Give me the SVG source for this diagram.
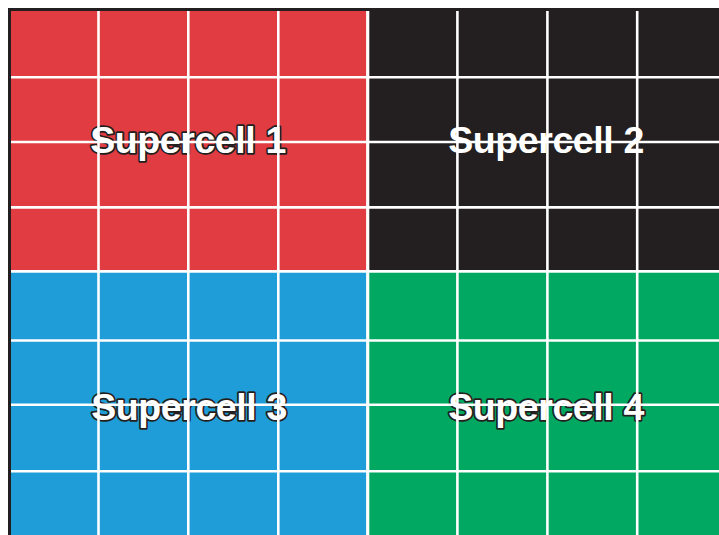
<svg xmlns="http://www.w3.org/2000/svg" width="719" height="535" viewBox="0 0 719 535">
<style>
.lbl{font-family:"Liberation Sans",Arial,sans-serif;font-weight:bold;font-size:37.5px;fill:#fff;stroke:#231f20;stroke-width:3.5;stroke-linejoin:round;paint-order:stroke;text-anchor:middle;letter-spacing:-0.4px}
.g{stroke:#fff;stroke-width:2.6;fill:none}
</style>
<rect width="719" height="535" fill="#fff"/>
<rect x="8" y="8" width="711" height="527" fill="#231f20"/>
<g id="supercell1">
<rect x="11" y="11" width="357" height="260" fill="#e03c41"/>
<text class="lbl" x="188" y="153">Supercell 1</text>
</g>
<g id="supercell2">
<rect x="368" y="11" width="351" height="260" fill="#231f20"/>
<text class="lbl" x="546" y="153">Supercell 2</text>
</g>
<g id="supercell3">
<rect x="11" y="271" width="357" height="264" fill="#1f9dd9"/>
<text class="lbl" x="189" y="420">Supercell 3</text>
</g>
<g id="supercell4">
<rect x="368" y="271" width="351" height="264" fill="#00a862"/>
<text class="lbl" x="546" y="420">Supercell 4</text>
</g>
<g id="gridlines" class="g">
<line x1="98.5" y1="11" x2="98.5" y2="535"/>
<line x1="188.3" y1="11" x2="188.3" y2="535"/>
<line x1="278.3" y1="11" x2="278.3" y2="535"/>
<line x1="367.7" y1="11" x2="367.7" y2="535" stroke-width="3.2"/>
<line x1="457.4" y1="11" x2="457.4" y2="535"/>
<line x1="547.4" y1="11" x2="547.4" y2="535"/>
<line x1="637.2" y1="11" x2="637.2" y2="535"/>
<line x1="11" y1="77.2" x2="719" y2="77.2"/>
<line x1="11" y1="142" x2="719" y2="142"/>
<line x1="11" y1="207.4" x2="719" y2="207.4"/>
<line x1="11" y1="271.4" x2="719" y2="271.4" stroke-width="2.8"/>
<line x1="11" y1="340.5" x2="719" y2="340.5"/>
<line x1="11" y1="404.7" x2="719" y2="404.7"/>
<line x1="11" y1="471.3" x2="719" y2="471.3"/>
</g>
</svg>
